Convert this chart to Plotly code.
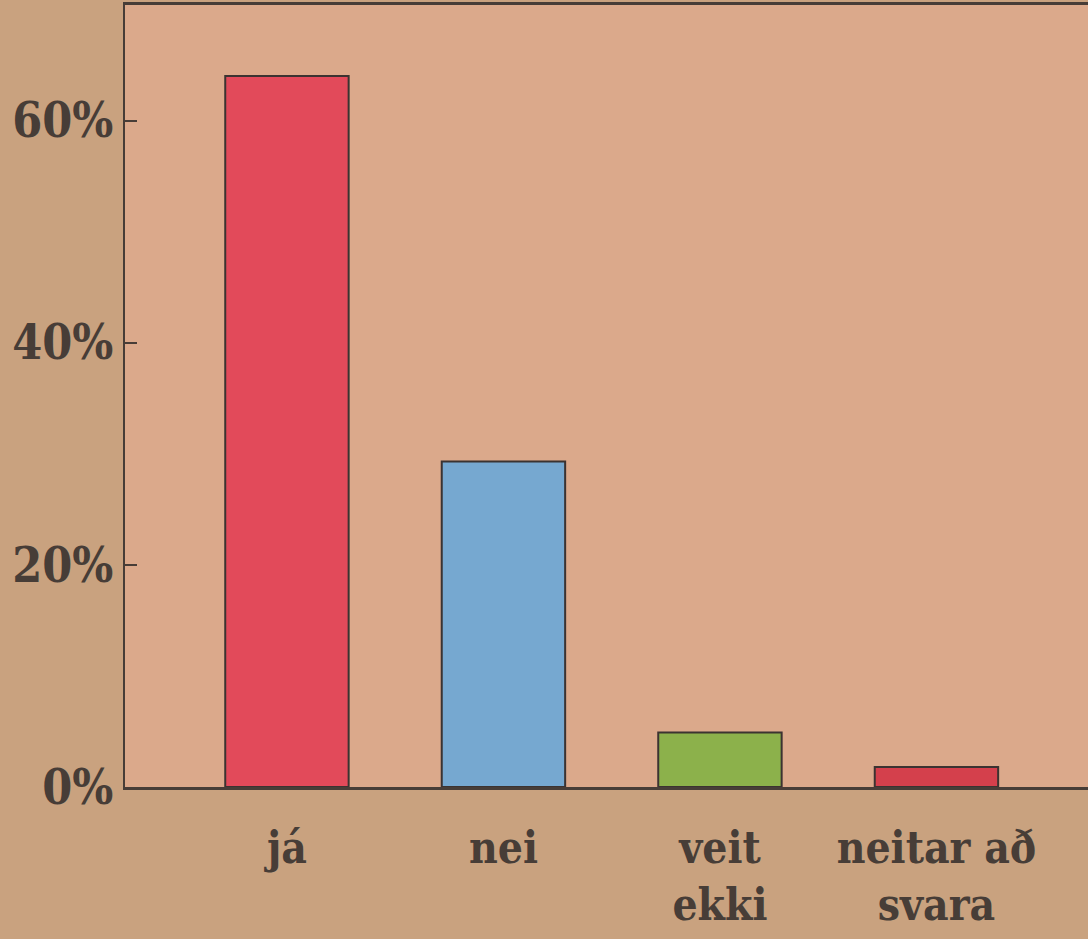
import plotly.graph_objects as go

categories = ["já", "nei", "veit<br>ekki", "neitar að<br>svara"]
values = [64.0, 29.3, 4.9, 1.8]
bar_colors = ["#e24a5a", "#76a8d0", "#8cb14b", "#d4404c"]
tick_vals = [0, 20, 40, 60]
tick_text = ["0%", "20%", "40%", "60%"]

ink = "#473d37"
paper = "#c9a27f"
font_family = "DejaVu Serif Condensed, DejaVu Serif, serif"

fig = go.Figure(
    go.Bar(
        x=categories,
        y=values,
        width=0.57,
        marker=dict(color=bar_colors, line=dict(color="#3b3331", width=2)),
        hoverinfo="skip",
    )
)

fig.update_layout(
    width=1088,
    height=939,
    margin=dict(l=125, r=0, t=5, b=152),
    paper_bgcolor=paper,
    plot_bgcolor="#dba98b",
    showlegend=False,
    font=dict(family=font_family, color=ink),
)

fig.update_xaxes(
    range=[-0.748, 3.70],
    showline=True,
    linecolor=ink,
    linewidth=3,
    mirror=True,
    showgrid=False,
    ticks="",
    tickfont=dict(size=44, family=font_family, color=ink, weight="bold"),
    ticklabelstandoff=20,
)

fig.update_yaxes(
    range=[0, 70.4],
    tickvals=tick_vals,
    ticktext=tick_text,
    showline=True,
    linecolor=ink,
    linewidth=2,
    showgrid=False,
    zeroline=False,
    ticks="inside",
    ticklen=12,
    tickwidth=2,
    tickcolor=ink,
    tickfont=dict(size=48, family=font_family, color=ink, weight="bold"),
    ticklabelstandoff=0,
)

fig.write_html(
    "out.html",
    config={"displayModeBar": False},
    post_script=(
        "document.body.style.margin='0';"
        "document.body.style.overflow='hidden';"
        "document.body.style.background='%s';" % paper
    ),
)
